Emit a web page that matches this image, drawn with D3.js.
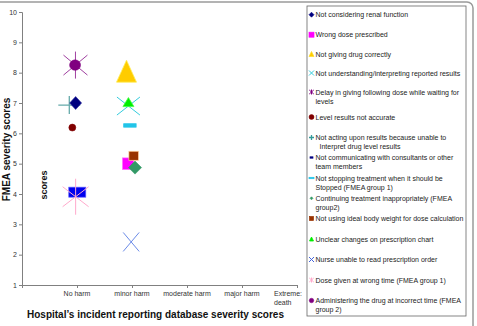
<!DOCTYPE html>
<html><head><meta charset="utf-8">
<script src="https://cdn.jsdelivr.net/npm/d3@7/dist/d3.min.js"></script>
<style>html,body{margin:0;padding:0;background:#fff;}svg{display:block;font-family:"Liberation Sans",Arial,sans-serif;}</style>
</head><body><div id="chart"></div>
<script>
// ---- data ----
const categories = ["No harm", "minor harm", "moderate harm", "major harm", "Extreme:\ndeath"];
const yTicks = [1,2,3,4,5,6,7,8,9,10];
const seriesNames = [
  "Not considering renal function",
  "Wrong dose prescribed",
  "Not giving drug correctly",
  "Not understanding/interpreting reported results",
  "Delay in giving following dose while waiting for\nlevels",
  "Level results not accurate",
  "Not acting upon results because unable to\n Interpret drug level results",
  "Not communicating with consultants or other\nteam members",
  "Not stopping treatment when it should be\nStopped (FMEA group 1)",
  "Continuing treatment inappropriately (FMEA\ngroup2)",
  "Not using ideal body weight for dose calculation",
  "Unclear changes on prescription chart",
  "Nurse unable to read prescription order",
  "Dose given at wrong time (FMEA group 1)",
  "Administering the drug at incorrect time (FMEA\ngroup 2)"
];
// hospital severity position (1 = No harm, 2 = minor harm; slight offsets as plotted)
const hospitalScore = [0.975, 1.93, 1.9, 1.935, 0.972, 0.915, 0.86, 1.005, 1.962, 2.055, 2.03, 1.935, 1.985, 0.975, 0.965];
// FMEA severity scores
const fmeaScore = [7.0, 5.0, 8.05, 6.9, 8.25, 6.19, 6.93, 4.06, 6.26, 4.87, 5.26, 7.03, 2.42, 3.91, 8.25];

// ---- styles ----
const styles = [
  {shape:"diamond", fill:"#000080", stroke:"#3030a0", w:12, h:13},
  {shape:"square", fill:"#ff00ff", stroke:"#ff60ff", w:11, h:11.5},
  {shape:"triangle", fill:"#ffcc00", stroke:"#ffee55", w:20, h:22},
  {shape:"x", stroke:"#33ccdd", w:23, h:18},
  {shape:"star", stroke:"#a040a0", w:24, h:20, v:27},
  {shape:"circle", fill:"#800000", stroke:"#800000", w:7, h:7},
  {shape:"plus", stroke:"#66aaaa", w:22, h:18},
  {shape:"rect", fill:"#0000ee", stroke:"#5a5aff", w:17, h:10},
  {shape:"rect", fill:"#22c4e8", stroke:"#22c4e8", w:12.5, h:3.5},
  {shape:"diamond", fill:"#339966", stroke:"#339966", w:13, h:13},
  {shape:"square", fill:"#993300", stroke:"#ffcc99", w:9.5, h:9},
  {shape:"triangle", fill:"#00ee00", stroke:"#44ff44", w:11, h:9},
  {shape:"x", stroke:"#6b8be8", w:16, h:19},
  {shape:"star", stroke:"#ffaacc", w:26, h:20, v:36},
  {shape:"circle", fill:"#800080", stroke:"#800080", w:11, h:10.5}
];
const legendStyles = [
  {shape:"diamond", fill:"#000080", stroke:"#000080", w:5, h:5},
  {shape:"square", fill:"#ff00ff", stroke:"#ff00ff", w:5, h:5},
  {shape:"triangle", fill:"#ffcc00", stroke:"#ffdd33", w:5, h:5},
  {shape:"x", stroke:"#33ccdd", w:5, h:5},
  {shape:"star", stroke:"#800080", w:4.5, h:4, v:5},
  {shape:"circle", fill:"#800000", stroke:"#800000", w:5, h:5},
  {shape:"plus", stroke:"#339999", w:5, h:5},
  {shape:"rect", fill:"#000080", stroke:"#000080", w:3, h:1.4},
  {shape:"rect", fill:"#22c4e8", stroke:"#22c4e8", w:5, h:1.4},
  {shape:"diamond", fill:"#339966", stroke:"#339966", w:3, h:3},
  {shape:"square", fill:"#993300", stroke:"#993300", w:4, h:4},
  {shape:"triangle", fill:"#00ee00", stroke:"#00ee00", w:4, h:4},
  {shape:"x", stroke:"#4466dd", w:5, h:5},
  {shape:"star", stroke:"#ffaacc", w:4.5, h:4, v:5},
  {shape:"circle", fill:"#800080", stroke:"#800080", w:4.5, h:4.5}
];
const drawOrder = [6,4,0,1,2,3,5,7,8,9,10,11,12,13,14];
const legendLineY = [14.7, 34.7, 54, 73, 92, 117, 137.5, 157.5, 178, 198.3, 218.5, 239, 259.5, 280, 300.5];

const W = 477, H = 326;
const svg = d3.select("#chart").append("svg").attr("width", W).attr("height", H);

// outer frame
svg.append("rect").attr("x", -10).attr("y", 2).attr("width", 483).attr("height", 340)
  .attr("rx", 6).attr("fill", "none").attr("stroke", "#9a9a9a").attr("stroke-width", 1.5);

const x = d3.scaleLinear().domain([0, 5]).range([22, 297]);
const y = d3.scaleLinear().domain([1, 10]).range([285, 12]);

// y axis
const yAxis = d3.axisLeft(y).tickValues(yTicks).tickSize(3).tickPadding(2).tickFormat(d3.format("d"));
const gy = svg.append("g").attr("transform", "translate(22,0)").call(yAxis);
gy.select(".domain").attr("stroke", "#808080");
gy.selectAll(".tick line").attr("stroke", "#808080");
gy.selectAll(".tick text").attr("font-size", 7).attr("fill", "#333").attr("font-family", "Liberation Sans, Arial, sans-serif");

// x axis
const xAxis = d3.axisBottom(x).tickValues([0,1,2,3,4,5]).tickSize(3).tickFormat("");
const gx = svg.append("g").attr("transform", "translate(0,285)").call(xAxis);
gx.select(".domain").attr("stroke", "#808080");
gx.selectAll(".tick line").attr("stroke", "#808080");
categories.forEach((c, i) => {
  const lines = c.split("\n");
  const t = svg.append("text").attr("font-size", 7).attr("fill", "#333")
    .attr("y", 296);
  if (lines.length > 1) {
    t.attr("x", x(i + 1) - 23).attr("text-anchor", "start");
    lines.forEach((l, j) => t.append("tspan").attr("x", x(i + 1) - 23).attr("dy", j ? 8.5 : 0).text(l));
  } else {
    t.attr("x", x(i + 1)).attr("text-anchor", "middle").text(c);
  }
});

// titles
svg.append("text").attr("x", 155.5).attr("y", 317.5).attr("text-anchor", "middle")
  .attr("font-size", 10).attr("font-weight", "bold").attr("fill", "#111")
  .text("Hospital\u2019s incident reporting database severity scores");
svg.append("text").attr("transform", "translate(9.5,149.5) rotate(-90)").attr("text-anchor", "middle")
  .attr("font-size", 10).attr("font-weight", "bold").attr("fill", "#111").text("FMEA severity scores");
svg.append("text").attr("transform", "translate(46.5,185) rotate(-90)").attr("text-anchor", "middle")
  .attr("font-size", 9).attr("font-weight", "bold").attr("fill", "#111").text("scores");

function drawMarker(g, s) {
  const hw = s.w / 2, hh = s.h / 2;
  switch (s.shape) {
    case "diamond":
      g.append("path").attr("d", `M0,${-hh}L${hw},0L0,${hh}L${-hw},0Z`).attr("fill", s.fill).attr("stroke", s.stroke).attr("stroke-width", 0.6); break;
    case "square": case "rect":
      g.append("rect").attr("x", -hw).attr("y", -hh).attr("width", s.w).attr("height", s.h).attr("fill", s.fill).attr("stroke", s.stroke).attr("stroke-width", 0.7); break;
    case "triangle":
      g.append("path").attr("d", `M0,${-hh}L${hw},${hh}L${-hw},${hh}Z`).attr("fill", s.fill).attr("stroke", s.stroke).attr("stroke-width", 0.8); break;
    case "circle":
      g.append("ellipse").attr("rx", hw).attr("ry", hh).attr("fill", s.fill).attr("stroke", s.stroke).attr("stroke-width", 0.5); break;
    case "x":
      g.append("path").attr("d", `M${-hw},${-hh}L${hw},${hh}M${hw},${-hh}L${-hw},${hh}`).attr("stroke", s.stroke).attr("stroke-width", 1).attr("fill", "none"); break;
    case "plus":
      g.append("path").attr("d", `M${-hw},0L${hw},0M0,${-hh}L0,${hh}`).attr("stroke", s.stroke).attr("stroke-width", 1.3).attr("fill", "none"); break;
    case "star":
      g.append("path").attr("d", `M${-hw},${-hh}L${hw},${hh}M${hw},${-hh}L${-hw},${hh}M0,${-s.v/2}L0,${s.v/2}`).attr("stroke", s.stroke).attr("stroke-width", 1).attr("fill", "none"); break;
  }
}

// points
const plot = svg.append("g");
drawOrder.forEach(i => {
  const g = plot.append("g").attr("transform", `translate(${x(hospitalScore[i])},${y(fmeaScore[i])})`);
  drawMarker(g, styles[i]);
});

// legend
svg.append("rect").attr("x", 307).attr("y", 6).attr("width", 159).attr("height", 310)
  .attr("fill", "#fff").attr("stroke", "#666").attr("stroke-width", 0.8);
seriesNames.forEach((n, i) => {
  const ly = legendLineY[i];
  const g = svg.append("g").attr("transform", `translate(311.5,${ly})`);
  drawMarker(g, legendStyles[i]);
  const lines = n.split("\n");
  const t = svg.append("text").attr("font-size", 7).attr("fill", "#222").attr("y", ly + 2.5);
  lines.forEach((l, j) => {
    const indent = l.startsWith(" ") ? 4 : 0;
    t.append("tspan").attr("x", 315.5 + indent).attr("dy", j ? 9.3 : 0).text(l.trim());
  });
});
</script></body></html>
